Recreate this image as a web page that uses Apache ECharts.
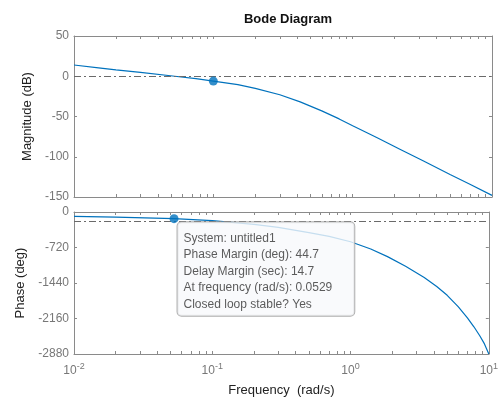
<!DOCTYPE html>
<html><head><meta charset="utf-8">
<script src="https://cdn.jsdelivr.net/npm/echarts@6/dist/echarts.min.js"></script>
<style>html,body{margin:0;padding:0;background:#fff}#c{width:501px;height:399px}</style>
</head><body><div id="c"></div>
<script>
// ---- data ----
const magFreq = [0.01, 0.015, 0.02, 0.03, 0.0529, 0.075, 0.1, 0.15, 0.2, 0.3, 0.42, 0.6, 0.8, 1.0, 1.5, 2.2, 3.2, 5.0, 7.0, 10];
const magDb   = [14, 10.5, 8, 4.8, 0, -3, -6, -10.5, -15, -23, -31.8, -43, -53, -61.5, -76.5, -91, -105, -122, -134.5, -148];
const phFreq  = [0.01, 0.02, 0.0529, 0.1, 0.2, 0.3, 0.5, 0.7, 1.0, 1.4, 1.85, 2.5, 3.41, 4.2, 5.0, 6.0, 7.0, 7.8, 8.6, 9.3, 10];
const phDeg   = [-88, -105, -135.3, -175, -250, -310, -420, -495, -603, -750, -905, -1100, -1330, -1510, -1690, -1918, -2146, -2328, -2510, -2675, -2880];
const magMarker = [0.1, -6];
const phMarker = [0.0529, -135.3];
const xTickVals = [];
[0.01, 0.1, 1].forEach(d => { for (let k = 1; k <= 9; k++) xTickVals.push(+(d * k).toPrecision(3)); });
xTickVals.push(10);
const infoLines = ['System: untitled1', 'Phase Margin (deg): 44.7', 'Delay Margin (sec): 14.7', 'At frequency (rad/s): 0.0529', 'Closed loop stable? Yes'];

const FONT = 'Liberation Sans, Arial, sans-serif';
const AX = '#8a8a8a';
const LINE = '#0072BD';
const pair = (a, b) => a.map((v, i) => [v, b[i]]);

function xAx(grid, pos, showLabels, extra) {
  return Object.assign({
    type: 'log', logBase: 10, min: 0.01, max: 10, gridIndex: grid, position: pos,
    axisLine: { show: true, onZero: false, lineStyle: { color: AX, width: 1 } },
    axisTick: { show: true, inside: true, length: 3, customValues: xTickVals, lineStyle: { color: AX } },
    axisLabel: showLabels ? {
      color: '#777', fontFamily: FONT, fontSize: 12, margin: 8,
      formatter: v => '10{s|' + Math.round(Math.log10(v)) + '}',
      rich: { s: { fontSize: 9, fontFamily: FONT, color: '#777', verticalAlign: 'bottom', padding: [0, 0, 9, 0] } }
    } : { show: false },
    splitLine: { show: false }, minorTick: { show: false }
  }, extra || {});
}
function yAx(grid, pos, min, max, interval, showLabels, extra) {
  return Object.assign({
    type: 'value', min: min, max: max, interval: interval, gridIndex: grid, position: pos,
    axisLine: { show: true, onZero: false, lineStyle: { color: AX, width: 1 } },
    axisTick: { show: true, inside: true, length: 3, lineStyle: { color: AX } },
    axisLabel: showLabels ? { color: '#777', fontFamily: FONT, fontSize: 12, margin: 5, formatter: v => String(v) } : { show: false },
    splitLine: { show: false }
  }, extra || {});
}
const dashDot = [7, 3, 2, 3];

const chart = echarts.init(document.getElementById('c'), null, { renderer: 'canvas' });
chart.setOption({
  animation: false,
  backgroundColor: '#fff',
  title: { text: 'Bode Diagram', left: 283, top: 8, textAlign: 'center',
    textStyle: { fontFamily: FONT, fontSize: 13, fontWeight: 'bold', color: '#111' } },
  grid: [
    { left: 74, top: 36, width: 418, height: 161 },
    { left: 74, top: 212, width: 418, height: 142 }
  ],
  xAxis: [
    xAx(0, 'bottom', false),
    xAx(0, 'top', false),
    xAx(1, 'bottom', true, { name: 'Frequency  (rad/s)', nameLocation: 'middle', nameGap: 30,
      nameTextStyle: { fontFamily: FONT, fontSize: 13, color: '#222' } }),
    xAx(1, 'top', false)
  ],
  yAxis: [
    yAx(0, 'left', -150, 50, 50, true, { name: 'Magnitude (dB)', nameLocation: 'middle', nameGap: 33,
      nameTextStyle: { fontFamily: FONT, fontSize: 13, color: '#222' } }),
    yAx(0, 'right', -150, 50, 50, false),
    yAx(1, 'left', -2880, 0, 720, true, { name: 'Phase (deg)', nameLocation: 'middle', nameGap: 38,
      nameTextStyle: { fontFamily: FONT, fontSize: 13, color: '#222' } }),
    yAx(1, 'right', -2880, 0, 720, false)
  ],
  series: [
    { type: 'line', xAxisIndex: 0, yAxisIndex: 0, data: pair(magFreq, magDb), smooth: false, showSymbol: false,
      lineStyle: { color: LINE, width: 1.2 }, z: 2,
      markLine: { silent: true, symbol: 'none', label: { show: false },
        lineStyle: { color: '#6a6a6a', width: 1, type: dashDot }, data: [{ yAxis: 0 }] } },
    { type: 'scatter', xAxisIndex: 0, yAxisIndex: 0, data: [magMarker], symbolSize: 9,
      itemStyle: { color: LINE }, z: 5 },
    { type: 'line', xAxisIndex: 2, yAxisIndex: 2, data: pair(phFreq, phDeg), smooth: false, showSymbol: false,
      lineStyle: { color: LINE, width: 1.2 }, z: 2,
      markLine: { silent: true, symbol: 'none', label: { show: false },
        lineStyle: { color: '#6a6a6a', width: 1, type: dashDot }, data: [{ yAxis: -180 }] } },
    { type: 'scatter', xAxisIndex: 2, yAxisIndex: 2, data: [phMarker], symbolSize: 9,
      itemStyle: { color: LINE }, z: 10, zlevel: 1,
      label: { show: true, position: [8, 8], align: 'left', verticalAlign: 'top',
        formatter: infoLines.join('\n'), fontFamily: FONT, fontSize: 12, lineHeight: 16.5, color: '#333',
        backgroundColor: '#f8f9fb', borderColor: '#9a9a9a', borderWidth: 1, borderRadius: 4,
        padding: [8, 22, 3, 6] } }
  ]
});
</script></body></html>
